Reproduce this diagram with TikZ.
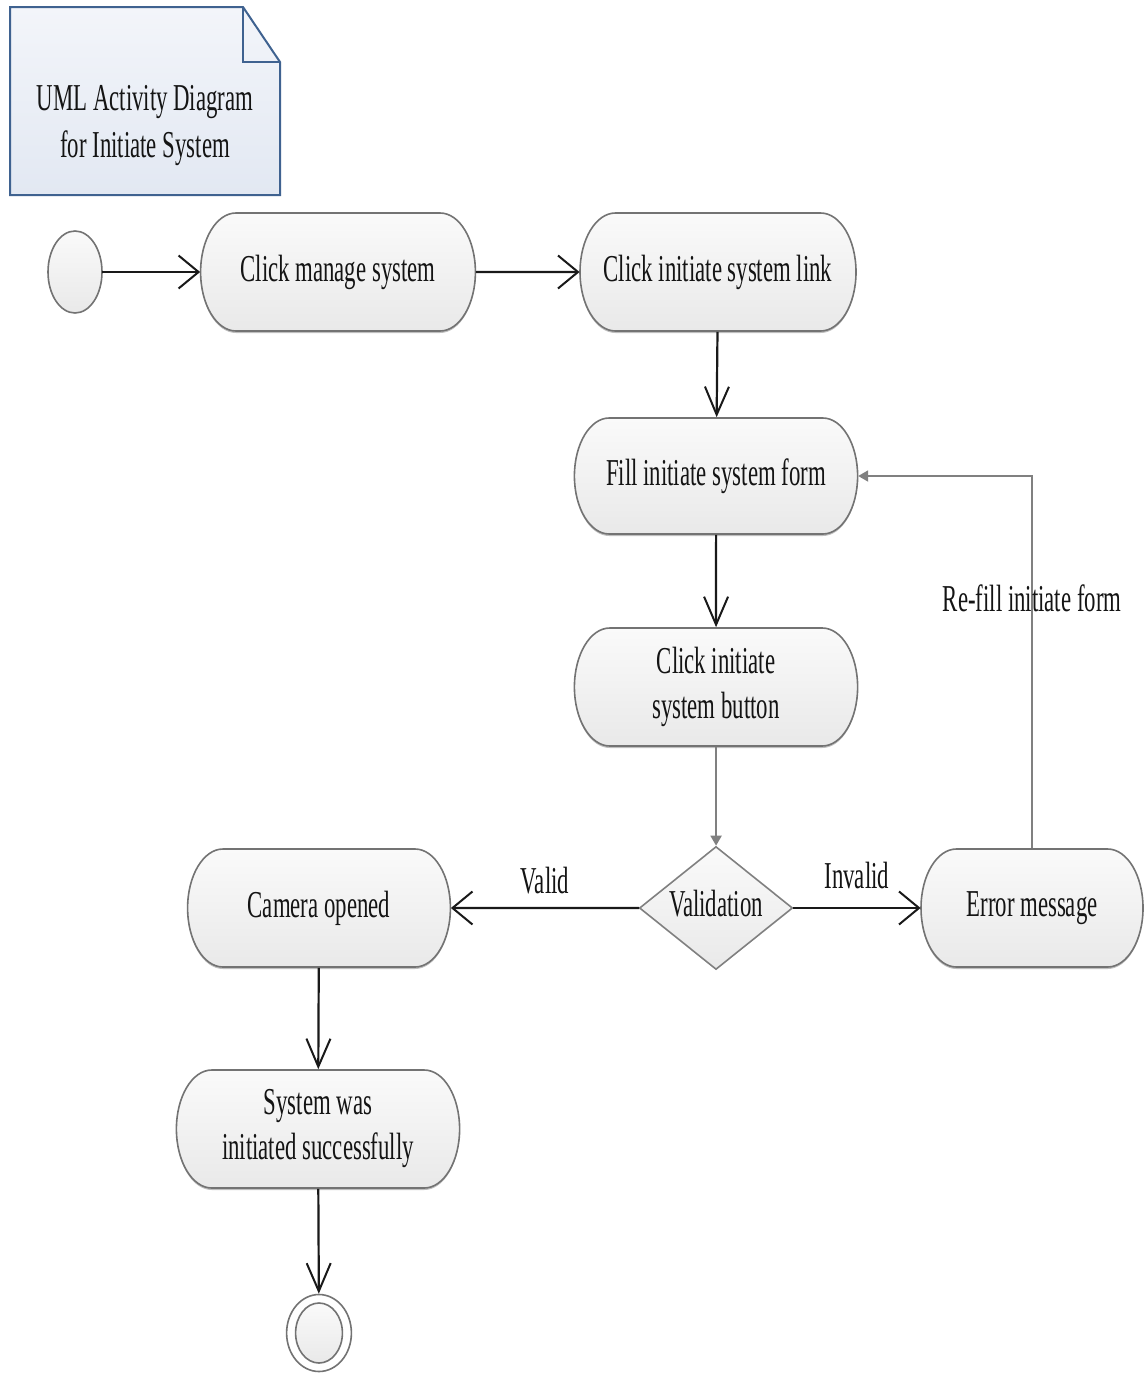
\documentclass[tikz,border=0pt]{standalone}
\usepackage{fontspec}
\setmainfont{Liberation Serif}
\usetikzlibrary{shapes.misc,shapes.geometric,arrows.meta,shadows}

\definecolor{lineGray}{HTML}{737373}
\definecolor{flowGray}{HTML}{808080}
\definecolor{fillTop}{HTML}{FAFAFA}
\definecolor{fillBot}{HTML}{E9E9E9}
\definecolor{noteLine}{HTML}{3F6290}
\definecolor{noteTop}{HTML}{F3F5FA}
\definecolor{noteBot}{HTML}{E2E8F2}
\definecolor{inkText}{HTML}{141414}

\begin{document}
% coordinates are given in pixels; everything is condensed horizontally
\begin{tikzpicture}[x=1.666667pt, y=-1pt, xscale=0.6, transform shape,
  every node/.style={font=\fontsize{38}{45}\selectfont, text=inkText},
  action/.style={rounded rectangle, draw=lineGray, line width=1.6pt,
    top color=fillTop, bottom color=fillBot, minimum height=118pt,
    inner sep=0pt, align=center,
    drop shadow={shadow xshift=0pt, shadow yshift=-2pt, opacity=0.25, fill=black}},
  decision/.style={diamond, draw=flowGray, line width=1.6pt,
    top color=fillTop, bottom color=fillBot, inner sep=0pt,
    minimum width=255pt, minimum height=123pt, shape aspect=2.07},
  flowH/.style={draw=black!90, line width=2.2pt,
    -{Straight Barb[length=20pt, width=33pt, line width=2pt]}},
  flowV/.style={draw=black!90, line width=2.2pt,
    -{Straight Barb[length=28pt, width=24pt, line width=2pt]}},
  flowThin/.style={draw=flowGray, line width=1.8pt,
    -{Triangle[length=10pt, width=11pt]}},
  guard/.style={font=\fontsize{38}{45}\selectfont, inner sep=4pt}
]
\useasboundingbox (0,0) rectangle (1147,1373);

% note with folded corner
\draw[draw=noteLine, line width=2pt, top color=noteTop, bottom color=noteBot]
  (10,7) -- (243,7) -- (280,62) -- (280,195) -- (10,195) -- cycle;
\draw[draw=noteLine, line width=2pt] (243,7) -- (243,62) -- (280,62);
\node[align=center, font=\fontsize{38}{47}\selectfont] (note) at (145,126) {UML Activity Diagram\\for Initiate System};

% initial node
\node[ellipse, draw=lineGray, line width=1.6pt, top color=fillTop, bottom color=fillBot,
  minimum width=90pt, minimum height=82pt, inner sep=0pt] (start) at (75,272) {};

% actions
\node[action, minimum width=458pt] (manage) at (338,272) {Click manage system};
\node[action, minimum width=460pt] (link) at (718,272) {Click initiate system link};
\node[action, minimum width=472pt, minimum height=116pt] (fill) at (716,476) {Fill initiate system form};
\node[action, minimum width=472pt] (button) at (716,687) {Click initiate\\system button};
\node[decision, text depth=10pt] (valid) at (716,908) {Validation};
\node[action, minimum width=438pt] (camera) at (319,908) {Camera opened};
\node[action, minimum width=370pt] (error) at (1032,908) {Error message};
\node[action, minimum width=472pt] (success) at (318,1129) {System was\\initiated successfully};

% final node
\node[ellipse, draw=lineGray, line width=1.6pt, fill=white,
  minimum width=108pt, minimum height=77pt, inner sep=0pt] (finish) at (319,1333) {};
\node[ellipse, draw=lineGray, line width=1.6pt, top color=fillTop, bottom color=fillBot,
  minimum width=78pt, minimum height=60pt, inner sep=0pt] (finishcore) at (319,1333) {};

% control flows
\draw[flowH] (start) -- (manage);
\draw[flowH] (manage) -- (link);
\draw[flowV] (link) -- (fill);
\draw[flowV] (fill) -- (button);
\draw[flowThin] (button) -- (valid);
\draw[flowH] (valid) -- node[guard, midway, above=9pt] {Valid} (camera);
\draw[flowH] (valid) -- node[guard, midway, above=14pt] {Invalid} (error);
\draw[flowThin] (error.north) |- node[guard, pos=0.336] {Re-fill initiate form} (fill.east);
\draw[flowV] (camera) -- (success);
\draw[flowV] (success) -- (finish);
\end{tikzpicture}
\end{document}
